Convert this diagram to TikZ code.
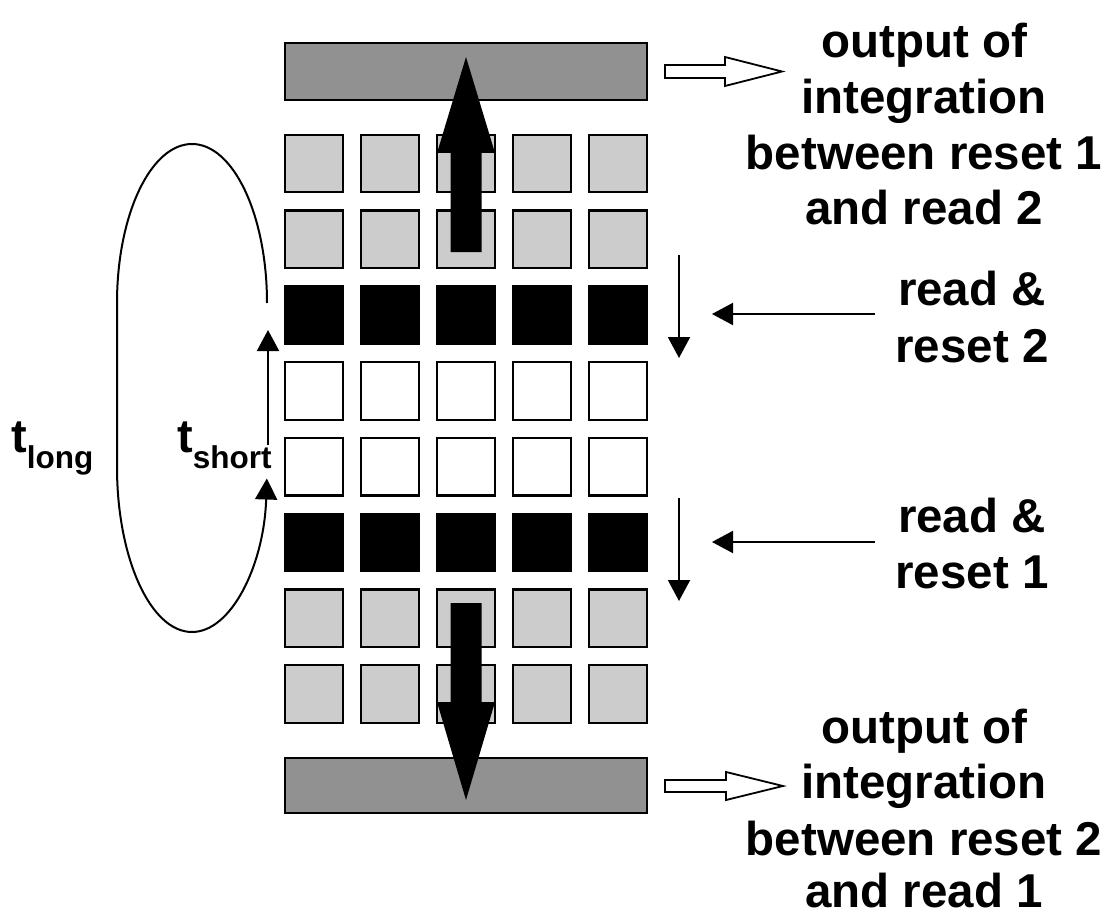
\documentclass[tikz,border=0pt]{standalone}
\usepackage{fontspec}
\setmainfont{Liberation Sans}
\usetikzlibrary{arrows.meta,calc}
\definecolor{barfill}{gray}{0.57}
\definecolor{cellgray}{gray}{0.80}
\begin{document}
\begin{tikzpicture}[x=1pt,y=-1pt,
  cell/.style={draw=black, line width=2.2pt, minimum size=57.5pt, inner sep=0pt, outer sep=0pt},
  bar/.style={draw=black, line width=2.2pt, fill=barfill, inner sep=0pt, outer sep=0pt},
  thin/.style={line width=2pt, -{Triangle[length=21pt,width=22pt]}},
  hollow/.style={draw=black, line width=1.8pt, fill=white, line join=miter},
  lab/.style={font=\fontsize{47.5}{55}\selectfont\bfseries, anchor=base, inner sep=0pt},
  tlab/.style={font=\fontsize{47}{47}\selectfont\bfseries, anchor=base west, inner sep=0pt}]
\useasboundingbox (0,0) rectangle (1108,920);

% read-out bars
\node[bar, minimum width=362pt, minimum height=57pt] (topbar) at (466,71.5) {};
\node[bar, minimum width=362pt, minimum height=55pt] (botbar) at (466,785.5) {};

% pixel array
\foreach \r/\c in {1/cellgray,2/cellgray,3/black,4/white,5/white,6/black,7/cellgray,8/cellgray}
  \foreach \k in {1,...,5}
    \node[cell, fill=\c] (c\r\k) at ({314+76*(\k-1)},{163.5+75.8*(\r-1)}) {};

% block arrows into the bars
\coordinate (upTip) at (466,57);
\coordinate (upTail) at (466,252);
\fill[black] (upTip) -- ($(upTip)+(29,96)$) -- ($(upTip)+(15.5,96)$) -- ($(upTail)+(15.5,0)$)
  -- ($(upTail)+(-15.5,0)$) -- ($(upTip)+(-15.5,96)$) -- ($(upTip)+(-29,96)$) -- cycle;
\coordinate (dnTip) at (466,800);
\coordinate (dnTail) at (466,603);
\fill[black] (dnTip) -- ($(dnTip)+(29,-98)$) -- ($(dnTip)+(15.5,-98)$) -- ($(dnTail)+(15.5,0)$)
  -- ($(dnTail)+(-15.5,0)$) -- ($(dnTip)+(-15.5,-98)$) -- ($(dnTip)+(-29,-98)$) -- cycle;

% hollow output arrows
\coordinate (hoTopTail) at (665,71.5);
\coordinate (hoTopTip) at (782,71.5);
\draw[hollow] ($(hoTopTail)+(0,-6.5)$) -- ($(hoTopTip)+(-57,-6.5)$) -- ($(hoTopTip)+(-57,-14.5)$)
  -- (hoTopTip) -- ($(hoTopTip)+(-57,14.5)$) -- ($(hoTopTip)+(-57,6.5)$) -- ($(hoTopTail)+(0,6.5)$) -- cycle;
\coordinate (hoBotTail) at (665,786);
\coordinate (hoBotTip) at (783,786);
\draw[hollow] ($(hoBotTail)+(0,-6)$) -- ($(hoBotTip)+(-57,-6)$) -- ($(hoBotTip)+(-57,-14)$)
  -- (hoBotTip) -- ($(hoBotTip)+(-57,14)$) -- ($(hoBotTip)+(-57,6)$) -- ($(hoBotTail)+(0,6)$) -- cycle;

% scan direction and read/reset pointers
\coordinate (scanA1) at (679,255);  \coordinate (scanA2) at (679,358);
\coordinate (scanB1) at (679,498);  \coordinate (scanB2) at (679,601);
\draw[thin] (scanA1) -- (scanA2);
\draw[thin] (scanB1) -- (scanB2);
\coordinate (ptrA1) at (875,314);  \coordinate (ptrA2) at (712,314);
\coordinate (ptrB1) at (875,542);  \coordinate (ptrB2) at (712,542);
\draw[thin] (ptrA1) -- (ptrA2);
\draw[thin] (ptrB1) -- (ptrB2);

% integration times
\coordinate (loopStart) at (267,303);
\draw[thin] (loopStart) arc[start angle=0, end angle=-180, x radius=75, y radius=159]
  -- ++(0,164) arc[start angle=180, end angle=4, x radius=75, y radius=165];
\coordinate (shortFrom) at (268,445);
\coordinate (shortTo) at (268,330);
\draw[thin] (shortFrom) -- (shortTo);

\node[tlab] (tlong) at (11,452) {t\raisebox{-16pt}{\fontsize{31.5}{31.5}\selectfont long}};
\node[tlab] (tshort) at (177,452) {t\raisebox{-16pt}{\fontsize{31.5}{31.5}\selectfont short}};

% labels
\node[lab] (ta1) at (924,58) {output of};
\node[lab] (ta2) at (924,114) {integration};
\node[lab] (ta3) at (924,170) {between reset 1};
\node[lab] (ta4) at (924,225) {and read 2};

\node[lab] (ra1) at (972,305) {read \&};
\node[lab] (ra2) at (972,362) {reset 2};
\node[lab] (rb1) at (972,532) {read \&};
\node[lab] (rb2) at (972,588) {reset 1};

\node[lab] (ba1) at (924,743) {output of};
\node[lab] (ba2) at (924,798) {integration};
\node[lab] (ba3) at (924,855) {between reset 2};
\node[lab] (ba4) at (924,907) {and read 1};
\end{tikzpicture}
\end{document}
